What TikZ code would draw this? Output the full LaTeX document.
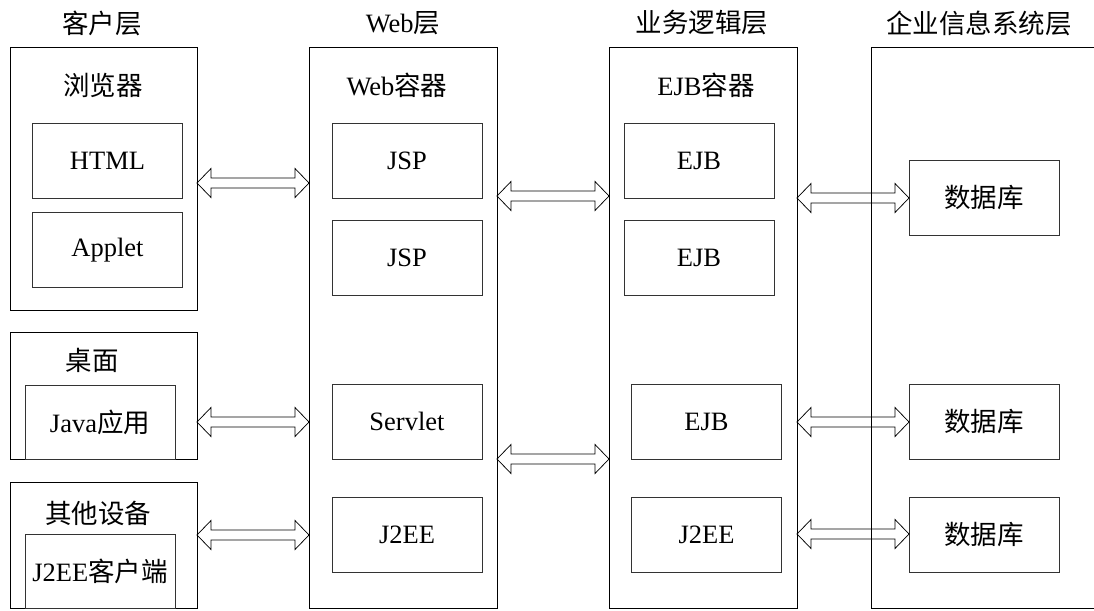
\documentclass[tikz,border=0pt]{standalone}
\usepackage{fontspec}
\setmainfont{Liberation Serif}
\newfontfamily\cjk{Noto Sans CJK SC}
\usetikzlibrary{calc}
\tikzset{
  txt/.style={font=\fontsize{26.5}{30}\selectfont, inner sep=0pt},
  outerbox/.style={draw=black, line width=1pt, inner sep=0pt, outer sep=0pt},
  innerbox/.style={draw=black!80, line width=0.9pt, inner sep=0pt, outer sep=0pt, minimum width=150pt, minimum height=75pt, font=\fontsize{26.5}{30}\selectfont},
  dblarrow/.style={draw=black, line width=0.75pt, line join=miter}
}
\newcommand{\dbl}[3]{%
  \draw[dblarrow] let \p1=(#1 |- 0,#3), \p2=(#2 |- 0,#3) in
    (\x1,\y1) -- (\x1+14pt,\y1+14.5pt) -- (\x1+14pt,\y1+5pt) -- (\x2-14pt,\y1+5pt)
    -- (\x2-14pt,\y1+14.5pt) -- (\x2,\y1) -- (\x2-14pt,\y1-14.5pt) -- (\x2-14pt,\y1-5pt)
    -- (\x1+14pt,\y1-5pt) -- (\x1+14pt,\y1-14.5pt) -- cycle;}
\begin{document}
\begin{tikzpicture}[x=1pt,y=-1pt]
\useasboundingbox (0,0) rectangle (1094,610);
% titles
\node[txt] (t1) at (102,23) {\cjk 客户层};
\node[txt] (t2) at (403,23) {Web\cjk 层};
\node[txt] (t3) at (702,23) {\cjk 业务逻辑层};
\node[txt] (t4) at (979,23) {\cjk 企业信息系统层};
% client tier
\node[outerbox, minimum width=187pt, minimum height=262pt] (browser) at (103.5,179) {};
\node[txt] (browserlbl) at (103,85) {\cjk 浏览器};
\node[innerbox] (html) at (107.5,160.5) {HTML};
\node[innerbox] (applet) at (107.5,250) {Applet};
\node[outerbox, minimum width=187pt, minimum height=127pt] (desk) at (103.5,395.5) {};
\node[txt] (desklbl) at (92,360) {\cjk 桌面};
\node[innerbox, minimum height=74pt] (java) at (100,422) {Java{\cjk 应用}};
\node[outerbox, minimum width=187pt, minimum height=126pt] (other) at (103.5,545) {};
\node[txt] (otherlbl) at (98,513) {\cjk 其他设备};
\node[innerbox, minimum height=74pt] (jclient) at (100,571) {J2EE{\cjk 客户端}};
% web tier
\node[outerbox, minimum width=188pt, minimum height=560pt] (web) at (403,328) {};
\node[txt] (weblbl) at (397,85) {Web{\cjk 容器}};
\node[innerbox] (jsp1) at (407,160.5) {JSP};
\node[innerbox] (jsp2) at (407,257.5) {JSP};
\node[innerbox] (servlet) at (407,421.5) {Servlet};
\node[innerbox] (jweb) at (407,534.5) {J2EE};
% business tier
\node[outerbox, minimum width=188pt, minimum height=560pt] (biz) at (703,328) {};
\node[txt] (bizlbl) at (706,85) {EJB{\cjk 容器}};
\node[innerbox] (ejb1) at (699,160.5) {EJB};
\node[innerbox] (ejb2) at (699,257.5) {EJB};
\node[innerbox] (ejb3) at (706.5,421.5) {EJB};
\node[innerbox] (jbiz) at (706.5,534.5) {J2EE};
% EIS tier
\node[outerbox, minimum width=240pt, minimum height=560pt] (eis) at (991,328) {};
\node[innerbox] (db1) at (984,197.5) {\cjk 数据库};
\node[innerbox] (db2) at (984,421.5) {\cjk 数据库};
\node[innerbox] (db3) at (984,534.5) {\cjk 数据库};
% arrows
\dbl{browser.east}{web.west}{183}
\dbl{desk.east}{web.west}{422}
\dbl{other.east}{web.west}{535}
\dbl{web.east}{biz.west}{196}
\dbl{web.east}{biz.west}{459}
\dbl{biz.east}{db1.west}{198}
\dbl{biz.east}{db2.west}{422}
\dbl{biz.east}{db3.west}{534}
\end{tikzpicture}
\end{document}
